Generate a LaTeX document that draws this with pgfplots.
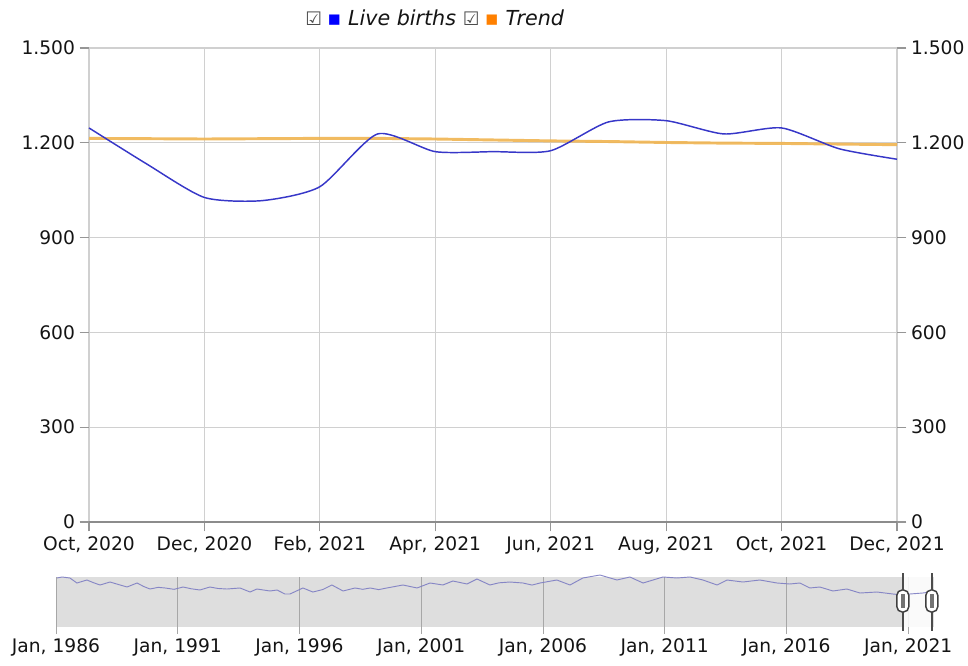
\documentclass[border=0pt]{standalone}
\usepackage{pgfplots}
\pgfplotsset{compat=1.18}
\usepackage{fontspec}
\setmainfont{DejaVu Sans}
\definecolor{gridgray}{RGB}{208,208,208}
\definecolor{axisgray}{RGB}{140,140,140}
\definecolor{tickgray}{RGB}{150,150,150}
\definecolor{livecol}{RGB}{55,55,200}
\definecolor{trendcol}{RGB}{240,180,80}
\definecolor{navfill}{RGB}{222,222,222}
\definecolor{navline}{RGB}{125,125,195}
\definecolor{labelcol}{RGB}{20,20,20}

\pgfplotstableread{
m v
0 1247
1 1133
2 1027
3 1017
4 1061
5 1228
6 1172
7 1172
8 1175
9 1266
10 1270
11 1228
12 1247
13 1181
14 1148
}\livedata

\pgfplotstableread{
m v
0 1214
1 1213
2 1212
3 1213
4 1214
5 1214
6 1212
7 1209
8 1206
9 1204
10 1201
11 1199
12 1198
13 1196
14 1194
}\trenddata

\pgfplotstableread{
t v
1986.04 1730
1986.25 1765
1986.57 1730
1986.86 1553
1987.27 1659
1987.55 1560
1987.81 1483
1988.22 1588
1988.63 1483
1988.92 1412
1989.33 1553
1989.60 1430
1989.86 1341
1990.20 1400
1990.48 1377
1990.85 1330
1991.22 1412
1991.55 1350
1991.91 1306
1992.32 1412
1992.65 1360
1993.02 1341
1993.56 1377
1993.97 1235
1994.25 1341
1994.79 1271
1995.08 1306
1995.40 1165
1995.61 1165
1996.14 1377
1996.55 1235
1996.95 1320
1997.33 1483
1997.79 1271
1998.28 1377
1998.60 1330
1998.90 1377
1999.25 1320
1999.59 1377
2000.25 1483
2000.83 1377
2001.36 1553
2001.89 1483
2002.30 1624
2002.88 1518
2003.29 1694
2003.82 1483
2004.20 1560
2004.64 1588
2005.18 1553
2005.55 1480
2005.88 1553
2006.57 1659
2007.11 1483
2007.64 1730
2008.34 1835
2009.04 1659
2009.57 1765
2010.11 1553
2010.93 1765
2011.50 1730
2012.04 1765
2012.57 1659
2013.15 1483
2013.56 1659
2014.21 1588
2014.91 1659
2015.61 1553
2016.14 1518
2016.55 1553
2016.96 1377
2017.37 1412
2017.91 1271
2018.48 1341
2019.02 1200
2019.72 1235
2020.37 1165
2020.78 1130
2021.07 1165
2021.60 1200
2021.89 1235
}\navdata

\begin{document}
\begin{tikzpicture}[x=1pt,y=1pt]
\path[use as bounding box] (0,0) rectangle (726,498.75);

% main axis
\begin{axis}[
  at={(66.75pt,107.25pt)}, anchor=south west,
  scale only axis, width=606pt, height=355.5pt,
  xmin=0, xmax=14, ymin=0, ymax=1500,
  xtick={0,2,...,14},
  xticklabels={{Oct, 2020},{Dec, 2020},{Feb, 2021},{Apr, 2021},{Jun, 2021},{Aug, 2021},{Oct, 2021},{Dec, 2021}},
  ytick={0,300,...,1500},
  grid=major,
  major grid style={gridgray, line width=0.8pt},
  axis line style={draw=none},
  tick style={tickgray, line width=0.8pt},
  xtick align=outside, ytick align=outside,
  tick pos=left,
  major tick length=7pt,
  /pgf/number format/assume math mode=true,
  /pgf/number format/1000 sep={.},
  ticklabel style={font=\fontsize{14}{16}\selectfont, text=labelcol},
  xticklabel style={text height=10.5pt, text depth=3pt, inner ysep=2pt, yshift=-2pt},
  clip=false,
]
\draw[axisgray, line width=0.9pt] (axis cs:0,0) -- (axis cs:14,0);
\addplot[trendcol, line width=2.2pt, opacity=0.9] table[x=m,y=v] {\trenddata};
\addplot[livecol, line width=1.1pt, smooth, tension=0.4] table[x=m,y=v] {\livedata};
\end{axis}

% right-hand y labels
\begin{axis}[
  at={(66.75pt,107.25pt)}, anchor=south west,
  scale only axis, width=606pt, height=355.5pt,
  xmin=0, xmax=14, ymin=0, ymax=1500,
  ytick={0,300,...,1500},
  xtick=\empty,
  axis line style={draw=none},
  tick style={tickgray, line width=0.8pt},
  ytick align=outside,
  ytick pos=right, yticklabel pos=right,
  major tick length=7pt,
  /pgf/number format/assume math mode=true,
  /pgf/number format/1000 sep={.},
  ticklabel style={font=\fontsize{14}{16}\selectfont, text=labelcol},
]
\end{axis}

% navigator
\begin{axis}[
  at={(42pt,28.5pt)}, anchor=south west,
  scale only axis, width=658.5pt, height=37.5pt,
  xmin=1986, xmax=2022.06, ymin=0, ymax=1765,
  xtick={1986,1991,...,2021},
  xticklabels={{Jan, 1986},{Jan, 1991},{Jan, 1996},{Jan, 2001},{Jan, 2006},{Jan, 2011},{Jan, 2016},{Jan, 2021}},
  ytick=\empty,
  axis background/.style={fill=navfill},
  axis line style={draw=none},
  xmajorgrids,
  major grid style={gridgray!80!black, line width=0.6pt},
  tick style={gridgray!80!black, line width=0.6pt},
  xtick align=outside, xtick pos=bottom,
  major tick length=5pt,
  /pgf/number format/assume math mode=true,
  ticklabel style={font=\fontsize{14}{16}\selectfont, text=labelcol},
  xticklabel style={text height=10.5pt, text depth=3pt, inner ysep=2pt, yshift=-1.5pt},
  clip=false,
]
\fill[white, opacity=0.85] (axis cs:2020.78,0) rectangle (axis cs:2021.97,1765);
\addplot[navline, line width=0.7pt, opacity=0.9] table[x=t,y=v] {\navdata};
\draw[black!70, line width=1.5pt] ([yshift=3pt]axis cs:2020.78,1765) -- ([yshift=-3pt]axis cs:2020.78,0);
\draw[black!75, fill=white, line width=1.1pt, rounded corners=4pt] ([xshift=-4.5pt,yshift=-8.25pt]axis cs:2020.78,918) rectangle ([xshift=4.5pt,yshift=8.25pt]axis cs:2020.78,918);
\fill[black!55] ([xshift=-1.6pt,yshift=-5pt]axis cs:2020.78,918) rectangle ([xshift=1.6pt,yshift=5pt]axis cs:2020.78,918);
\draw[black!70, line width=1.5pt] ([yshift=3pt]axis cs:2021.97,1765) -- ([yshift=-3pt]axis cs:2021.97,0);
\draw[black!75, fill=white, line width=1.1pt, rounded corners=4pt] ([xshift=-4.5pt,yshift=-8.25pt]axis cs:2021.97,918) rectangle ([xshift=4.5pt,yshift=8.25pt]axis cs:2021.97,918);
\fill[black!55] ([xshift=-1.6pt,yshift=-5pt]axis cs:2021.97,918) rectangle ([xshift=1.6pt,yshift=5pt]axis cs:2021.97,918);
\end{axis}

% legend
\node[anchor=center, font=\fontsize{15.5}{18}\selectfont, inner sep=0pt, text=labelcol] at (326,485.25) {%
  \textcolor{black!70}{\fontsize{14}{16}\selectfont ☑}\hspace{4pt}%
  \textcolor{blue}{▪}\hspace{5pt}\textit{Live births}\hspace{5pt}%
  \textcolor{black!70}{\fontsize{14}{16}\selectfont ☑}\hspace{4pt}%
  \textcolor{orange}{▪}\hspace{5pt}\textit{Trend}};
\end{tikzpicture}
\end{document}
